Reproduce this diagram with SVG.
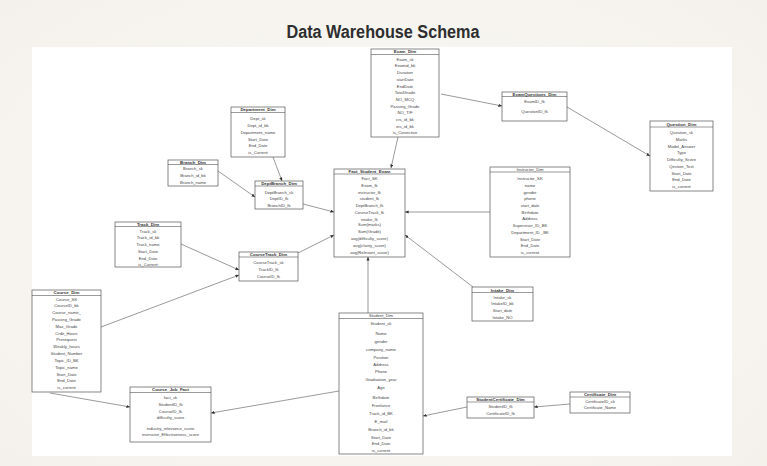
<svg xmlns="http://www.w3.org/2000/svg" width="767" height="466" viewBox="0 0 767 466">
<defs>
<style>
.bx{fill:#fff;stroke:#555;stroke-width:0.7}
.hl{stroke:#555;stroke-width:0.6}
.h{font-family:"Liberation Sans",Arial,sans-serif;font-size:4.4px;font-weight:bold;fill:#333;text-anchor:middle}
.r{font-family:"Liberation Sans",Arial,sans-serif;font-size:4.2px;fill:#444;text-anchor:middle}
.e{stroke:#555;stroke-width:0.6;fill:none;marker-end:url(#ah)}
</style>
<marker id="ah" markerUnits="userSpaceOnUse" markerWidth="4" markerHeight="4" refX="3.6" refY="1.6" orient="auto">
<path d="M0,0 L3.6,1.6 L0,3.2 z" fill="#333"/>
</marker>
<radialGradient id="bg" cx="0.5" cy="0.5" r="0.8">
<stop offset="0" stop-color="#fbfaf7"/>
<stop offset="1" stop-color="#f3f0ea"/>
</radialGradient>
</defs>
<rect x="0" y="0" width="767" height="466" fill="url(#bg)"/>
<rect x="32" y="47" width="700" height="409" fill="#fff"/>
<text x="383" y="38" font-family="Liberation Sans,Arial,sans-serif" font-size="18" font-weight="bold" fill="#2e2e2e" text-anchor="middle" textLength="193" lengthAdjust="spacingAndGlyphs">Data Warehouse Schema</text>

<g id="connectors">
<line class="e" x1="398" y1="137" x2="391" y2="168"/>
<line class="e" x1="441" y1="94" x2="502" y2="106"/>
<line class="e" x1="567" y1="107" x2="650" y2="156"/>
<line class="e" x1="273" y1="157" x2="282" y2="181"/>
<line class="e" x1="218" y1="171" x2="255" y2="197"/>
<line class="e" x1="303" y1="204" x2="334" y2="212"/>
<line class="e" x1="298" y1="253" x2="334" y2="235"/>
<line class="e" x1="181" y1="244" x2="239" y2="270"/>
<line class="e" x1="101" y1="327" x2="239" y2="275"/>
<line class="e" x1="490" y1="212" x2="405" y2="212"/>
<line class="e" x1="473" y1="287" x2="405" y2="235"/>
<line class="e" x1="368" y1="313" x2="368" y2="257"/>
<line class="e" x1="50" y1="393" x2="130" y2="407"/>
<line class="e" x1="339" y1="391" x2="211" y2="413"/>
<line class="e" x1="467" y1="407" x2="423" y2="416"/>
<line class="e" x1="570" y1="404" x2="534" y2="407"/>
</g>

<g id="Exam_Dim">
<rect class="bx" x="371" y="49" width="68" height="88"/>
<line class="hl" x1="371" y1="54.5" x2="439" y2="54.5"/>
<text class="h" x="405" y="53.3">Exam_Dim</text>
<text class="r" x="405" y="60.5">Exam_sk</text>
<text class="r" x="405" y="67.3">Examid_bk</text>
<text class="r" x="405" y="74">Duration</text>
<text class="r" x="405" y="80.7">startDate</text>
<text class="r" x="405" y="87.5">EndDate</text>
<text class="r" x="405" y="94.3">TotalGrade</text>
<text class="r" x="405" y="100.7">NO_MCQ</text>
<text class="r" x="405" y="107.5">Passing_Grade</text>
<text class="r" x="405" y="114">NO_T/F</text>
<text class="r" x="405" y="120.7">crs_id_bk</text>
<text class="r" x="405" y="127.5">ins_id_bk</text>
<text class="r" x="405" y="134.3">is_Corrective</text>
</g>

<g id="Department_Dim">
<rect class="bx" x="231" y="107" width="54" height="50"/>
<line class="hl" x1="231" y1="112.5" x2="285" y2="112.5"/>
<text class="h" x="258" y="111.3">Department_Dim</text>
<text class="r" x="258" y="119.5">Dept_sk</text>
<text class="r" x="258" y="126.5">Dept_id_bk</text>
<text class="r" x="258" y="133.5">Department_name</text>
<text class="r" x="258" y="140.5">Start_Date</text>
<text class="r" x="258" y="147.3">End_Date</text>
<text class="r" x="258" y="154">is_Current</text>
</g>

<g id="Branch_Dim">
<rect class="bx" x="168" y="160" width="50" height="26"/>
<line class="hl" x1="168" y1="164.5" x2="218" y2="164.5"/>
<text class="h" x="193" y="163.5">Branch_Dim</text>
<text class="r" x="193" y="169.5">Branch_sk</text>
<text class="r" x="193" y="176.5">Branch_id_bk</text>
<text class="r" x="193" y="183.5">Branch_name</text>
</g>

<g id="DeptBranch_Dim">
<rect class="bx" x="255" y="181" width="48" height="28"/>
<line class="hl" x1="255" y1="186" x2="303" y2="186"/>
<text class="h" x="279" y="185">DeptBranch_Dim</text>
<text class="r" x="279" y="193.5">DeptBranch_sk</text>
<text class="r" x="279" y="200.3">DeptID_fk</text>
<text class="r" x="279" y="206.8">BranchID_fk</text>
</g>

<g id="Fact_Student_Exam">
<rect class="bx" x="334" y="169" width="71" height="88"/>
<line class="hl" x1="334" y1="174" x2="405" y2="174"/>
<text class="h" x="369.5" y="173">Fact_Student_Exam</text>
<text class="r" x="369.5" y="179.5">Fact_SK</text>
<text class="r" x="369.5" y="186.5">Exam_fk</text>
<text class="r" x="369.5" y="193.5">instructor_fk</text>
<text class="r" x="369.5" y="200.3">student_fk</text>
<text class="r" x="369.5" y="207.3">DeptBranch_fk</text>
<text class="r" x="369.5" y="213.8">CourseTrack_fk</text>
<text class="r" x="369.5" y="220.5">intake_fk</text>
<text class="r" x="369.5" y="226.3">Sum(marks)</text>
<text class="r" x="369.5" y="233.3">Sum(Grade)</text>
<text class="r" x="369.5" y="240.3">avg(difficulty_score)</text>
<text class="r" x="369.5" y="247.3">avg(clarity_score)</text>
<text class="r" x="369.5" y="254.3">avg(Relevant_score)</text>
</g>

<g id="ExamQuestions_Dim">
<rect class="bx" x="502" y="92" width="65" height="29"/>
<line class="hl" x1="502" y1="96.5" x2="567" y2="96.5"/>
<text class="h" x="534.5" y="95.5">ExamQuestions_Dim</text>
<text class="r" x="534.5" y="102.5">ExamID_fk</text>
<text class="r" x="534.5" y="112.5">QuestionID_fk</text>
</g>

<g id="Question_Dim">
<rect class="bx" x="650" y="121" width="63" height="70"/>
<line class="hl" x1="650" y1="127" x2="713" y2="127"/>
<text class="h" x="681.5" y="125.7">Question_Dim</text>
<text class="r" x="681.5" y="133.5">Question_sk</text>
<text class="r" x="681.5" y="140.5">Marks</text>
<text class="r" x="681.5" y="147.5">Model_Answer</text>
<text class="r" x="681.5" y="154.3">Type</text>
<text class="r" x="681.5" y="161.3">Difficulty_Score</text>
<text class="r" x="681.5" y="167.8">Qestion_Text</text>
<text class="r" x="681.5" y="174.5">Start_Date</text>
<text class="r" x="681.5" y="181.3">End_Date</text>
<text class="r" x="681.5" y="188.3">is_current</text>
</g>

<g id="Instructor_Dim">
<rect class="bx" x="490" y="167" width="80" height="90"/>
<line class="hl" x1="490" y1="172" x2="570" y2="172"/>
<text class="r" x="530" y="170.8">Instructor_Dim</text>
<text class="r" x="530" y="179.5">Instructor_SK</text>
<text class="r" x="530" y="186.5">name</text>
<text class="r" x="530" y="193.5">gender</text>
<text class="r" x="530" y="199.8">phone</text>
<text class="r" x="530" y="206.5">start_date</text>
<text class="r" x="530" y="213.5">Birthdate</text>
<text class="r" x="530" y="220.3">Address</text>
<text class="r" x="530" y="227.3">Supervisor_ID_BK</text>
<text class="r" x="530" y="233.8">Department_ID _BK</text>
<text class="r" x="530" y="240.5">Start_Date</text>
<text class="r" x="530" y="247.3">End_Date</text>
<text class="r" x="530" y="254.3">is_current</text>
</g>

<g id="Track_Dim">
<rect class="bx" x="115" y="222" width="66" height="45"/>
<line class="hl" x1="115" y1="226.5" x2="181" y2="226.5"/>
<text class="h" x="148" y="225.5">Track_Dim</text>
<text class="r" x="148" y="232.5">Track_sk</text>
<text class="r" x="148" y="239.3">Track_id_bk</text>
<text class="r" x="148" y="246.3">Track_name</text>
<text class="r" x="148" y="252.8">Start_Date</text>
<text class="r" x="148" y="259.5">End_Date</text>
<text class="r" x="148" y="266.3">is_Current</text>
</g>

<g id="CourseTrack_Dim">
<rect class="bx" x="239" y="252" width="59" height="29"/>
<line class="hl" x1="239" y1="257" x2="298" y2="257"/>
<text class="h" x="268.5" y="256">CourseTrack_Dim</text>
<text class="r" x="268.5" y="264.3">CourseTrack_sk</text>
<text class="r" x="268.5" y="271.3">TrackID_fk</text>
<text class="r" x="268.5" y="278">CourseID_fk</text>
</g>

<g id="Course_Dim">
<rect class="bx" x="32" y="290" width="69" height="102"/>
<line class="hl" x1="32" y1="295.5" x2="101" y2="295.5"/>
<text class="h" x="66.5" y="294.3">Course_Dim</text>
<text class="r" x="66.5" y="300.5">Course_SK</text>
<text class="r" x="66.5" y="307.3">CourseID_bk</text>
<text class="r" x="66.5" y="314.3">Course_name_</text>
<text class="r" x="66.5" y="320.8">Passing_Grade</text>
<text class="r" x="66.5" y="327.5">Max_Grade</text>
<text class="r" x="66.5" y="334.5">Crdit_Hours</text>
<text class="r" x="66.5" y="341.3">Prerequest</text>
<text class="r" x="66.5" y="348.3">Weakly_hours</text>
<text class="r" x="66.5" y="355.3">Student_Number</text>
<text class="r" x="66.5" y="361.8">Topic_ID_BK</text>
<text class="r" x="66.5" y="368.8">Topic_name</text>
<text class="r" x="66.5" y="375.5">Start_Date</text>
<text class="r" x="66.5" y="382.3">End_Date</text>
<text class="r" x="66.5" y="389.3">is_current</text>
</g>

<g id="Intake_Dim">
<rect class="bx" x="472" y="287" width="61" height="34"/>
<line class="hl" x1="472" y1="292.5" x2="533" y2="292.5"/>
<text class="h" x="502.5" y="291.5">Intake_Dim</text>
<text class="r" x="502.5" y="298.5">Intake_sk</text>
<text class="r" x="502.5" y="305.3">IntakeID_bk</text>
<text class="r" x="502.5" y="312">Start_date</text>
<text class="r" x="502.5" y="318.5">Intake_NO</text>
</g>

<g id="Student_Dim">
<rect class="bx" x="339" y="313" width="84" height="141"/>
<line class="hl" x1="339" y1="318.5" x2="423" y2="318.5"/>
<text class="r" x="381" y="317.3">Student_Dim</text>
<text class="r" x="381" y="325.3">Student_sk</text>
<text class="r" x="381" y="335.3">Name</text>
<text class="r" x="381" y="342.5">gender</text>
<text class="r" x="381" y="350.8">company_name</text>
<text class="r" x="381" y="358.5">Position</text>
<text class="r" x="381" y="365.8">Address</text>
<text class="r" x="381" y="372.5">Phone</text>
<text class="r" x="381" y="380.8">Graduation_year</text>
<text class="r" x="381" y="389.3">Age</text>
<text class="r" x="381" y="399.3">Birthdate</text>
<text class="r" x="381" y="407.3">Freelance</text>
<text class="r" x="381" y="415.3">Track_id_BK</text>
<text class="r" x="381" y="423.3">E_mail</text>
<text class="r" x="381" y="431.3">Branch_id_bk</text>
<text class="r" x="381" y="438.5">Start_Date</text>
<text class="r" x="381" y="445.3">End_Date</text>
<text class="r" x="381" y="452.3">is_current</text>
</g>

<g id="Course_Job_Fact">
<rect class="bx" x="130" y="387" width="81" height="55"/>
<line class="hl" x1="130" y1="392.5" x2="211" y2="392.5"/>
<text class="h" x="170.5" y="391.3">Course_Job_Fact</text>
<text class="r" x="170.5" y="398.5">fact_sk</text>
<text class="r" x="170.5" y="405.5">StudentID_fk</text>
<text class="r" x="170.5" y="412.5">CourseID_fk</text>
<text class="r" x="170.5" y="419.3">difficulty_score</text>
<text class="r" x="170.5" y="429.5">industry_relevance_score</text>
<text class="r" x="170.5" y="436.3">instructor_Effectiveness_score</text>
</g>

<g id="StudentCertificate_Dim">
<rect class="bx" x="467" y="397" width="67" height="21"/>
<line class="hl" x1="467" y1="402" x2="534" y2="402"/>
<text class="h" x="500.5" y="401">StudentCertificate_Dim</text>
<text class="r" x="500.5" y="407.5">StudentID_fk</text>
<text class="r" x="500.5" y="414.5">CertificateID_fk</text>
</g>

<g id="Certificate_Dim">
<rect class="bx" x="570" y="392" width="60" height="21"/>
<line class="hl" x1="570" y1="397" x2="630" y2="397"/>
<text class="h" x="600" y="396">Certificate_Dim</text>
<text class="r" x="600" y="402.5">CertificateID_sk</text>
<text class="r" x="600" y="409">Certificate_Name</text>
</g>
</svg>
